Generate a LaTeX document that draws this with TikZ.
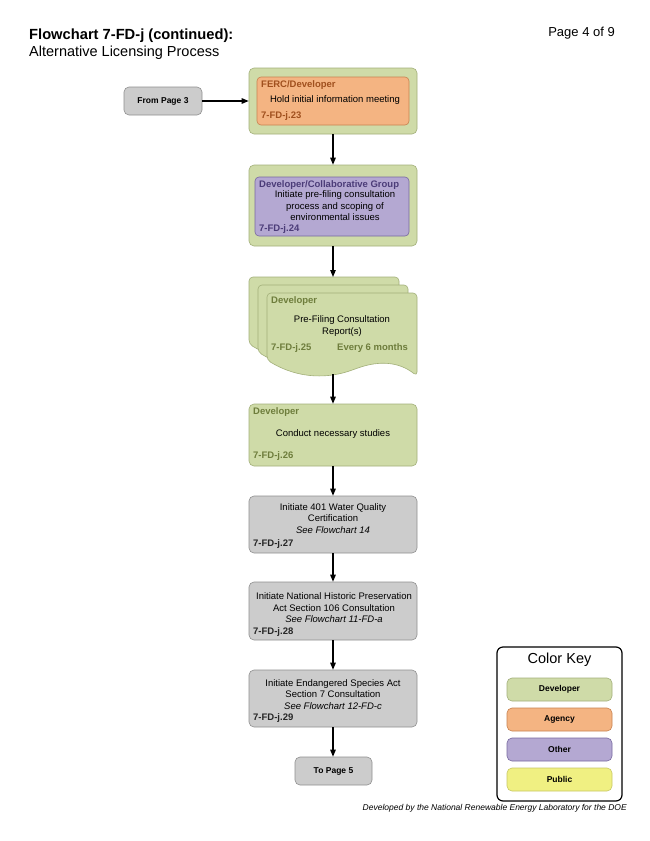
\documentclass[tikz,border=0pt]{standalone}
\usepackage{fontspec}
\setmainfont{Liberation Sans}
\usetikzlibrary{arrows.meta}
\definecolor{gfill}{HTML}{CFDBA8}
\definecolor{gdraw}{HTML}{A3B07A}
\definecolor{gtext}{HTML}{6E7D3C}
\definecolor{ofill}{HTML}{F4B482}
\definecolor{odraw}{HTML}{C8824F}
\definecolor{otext}{HTML}{A0501E}
\definecolor{pfill}{HTML}{B4A8D2}
\definecolor{pdraw}{HTML}{7869A0}
\definecolor{ptext}{HTML}{4B3C78}
\definecolor{kfill}{HTML}{CCCCCC}
\definecolor{kdraw}{HTML}{909090}
\definecolor{yfill}{HTML}{F0F082}
\definecolor{ydraw}{HTML}{C8C864}
\begin{document}
\begin{tikzpicture}[x=1pt,y=-1pt,
  box/.style={draw, rounded corners=5pt, inner sep=0pt, line width=0.6pt},
  devbox/.style={box, fill=gfill, draw=gdraw},
  agbox/.style={box, rounded corners=4pt, fill=ofill, draw=odraw},
  othbox/.style={box, rounded corners=4pt, fill=pfill, draw=pdraw},
  graybox/.style={box, fill=kfill, draw=kdraw},
  pubbox/.style={box, fill=yfill, draw=ydraw},
  body/.style={font=\fontsize{9.5}{11.5}\selectfont, align=center, inner sep=0pt},
  small/.style={font=\bfseries\fontsize{8.5}{10.5}\selectfont, align=center, inner sep=0pt},
  tag/.style={font=\bfseries\fontsize{9.5}{11.5}\selectfont, inner sep=0pt, anchor=west},
  arr/.style={-{Triangle[length=7pt,width=5.5pt]}, line width=1.1pt},
  page/.style={fill=gfill, draw=gdraw, line width=0.6pt, rounded corners=4pt}
]
\useasboundingbox[fill=white] (0,0) rectangle (650,841);

% titles
\node[anchor=base west, inner sep=0pt, font=\bfseries\fontsize{14.7}{17}\selectfont] (t1) at (29,39) {Flowchart 7-FD-j (continued):};
\node[anchor=base west, inner sep=0pt, font=\fontsize{14.5}{17}\selectfont] (t2) at (29,56) {Alternative Licensing Process};
\node[anchor=base east, inner sep=0pt, font=\fontsize{13}{15}\selectfont] (pg) at (615,36) {Page 4 of 9};

% From page 3
\node[graybox, minimum width=78pt, minimum height=28pt, small] (from) at (163,101) {From Page 3};

% box 23
\node[devbox, minimum width=168pt, minimum height=66pt] (o1) at (333,101) {};
\node[agbox, minimum width=152pt, minimum height=48pt] (i1) at (333,101) {};
\node[tag, text=otext] (l1) at (261,85) {FERC/Developer};
\node[body] (b1) at (335,100) {Hold initial information meeting};
\node[tag, text=otext] (n1) at (261,116) {7-FD-j.23};

% box 24
\node[devbox, minimum width=168pt, minimum height=81pt] (o2) at (333,205.5) {};
\node[othbox, minimum width=154pt, minimum height=59pt] (i2) at (332,206.5) {};
\node[tag, text=ptext] (l2) at (259,185) {Developer/Collaborative Group};
\node[body] (b2) at (335,206) {Initiate pre-filing consultation\\process and scoping of\\environmental issues};
\node[tag, text=ptext] (n2) at (259,229) {7-FD-j.24};

% multi-document 25
\foreach \dx/\dy in {-18/-16,-9/-8,0/0}{
  \begin{scope}[shift={(\dx,\dy)}]
    \path[page] (267,293) -- (417,293) -- (417,376)
      .. controls (398,361) and (378,361) .. (355,369)
      .. controls (330,378) and (300,380) .. (267,360) -- cycle;
  \end{scope}
}
\node[minimum width=150pt, minimum height=70pt, inner sep=0pt] (doc) at (342,328) {};
\coordinate (docbot) at (333,374);
\coordinate (doctop) at (333,277);
\node[tag, text=gtext] (l3) at (271,301) {Developer};
\node[body] (b3) at (342,326) {Pre-Filing Consultation\\Report(s)};
\node[tag, text=gtext] (n3) at (271,348) {7-FD-j.25};
\node[tag, text=gtext] (e3) at (337,348) {Every 6 months};

% box 26
\node[devbox, minimum width=168pt, minimum height=62pt] (o4) at (333,435) {};
\node[tag, text=gtext] (l4) at (253,412) {Developer};
\node[body] (b4) at (333,434) {Conduct necessary studies};
\node[tag, text=gtext] (n4) at (253,456) {7-FD-j.26};

% box 27
\node[graybox, minimum width=168pt, minimum height=57pt] (o5) at (333,524.5) {};
\node[body] (b5) at (333,518.5) {Initiate 401 Water Quality\\Certification\\\textit{See Flowchart 14}};
\node[tag, text=black!85] (n5) at (253,544) {7-FD-j.27};

% box 28
\node[graybox, minimum width=168pt, minimum height=58pt] (o6) at (333,611) {};
\node[body] (b6) at (334,608) {Initiate National Historic Preservation\\Act Section 106 Consultation\\\textit{See Flowchart 11-FD-a}};
\node[tag, text=black!85] (n6) at (253,632) {7-FD-j.28};

% box 29
\node[graybox, minimum width=168pt, minimum height=57pt] (o7) at (333,698.5) {};
\node[body] (b7) at (333,694.5) {Initiate Endangered Species Act\\Section 7 Consultation\\\textit{See Flowchart 12-FD-c}};
\node[tag, text=black!85] (n7) at (253,718) {7-FD-j.29};

% To page 5
\node[graybox, minimum width=77pt, minimum height=28pt, small] (to) at (333.5,771) {To Page 5};

% arrows
\draw[arr] (from.east) -- (o1.west);
\draw[arr] (o1.south) -- (o2.north);
\draw[arr] (o2.south) -- (doctop);
\draw[arr] (docbot) -- (o4.north);
\draw[arr] (o4.south) -- (o5.north);
\draw[arr] (o5.south) -- (o6.north);
\draw[arr] (o6.south) -- (o7.north);
\draw[arr] (o7.south) -- (to.north -| o7.south);

% color key
\node[draw=black, line width=1.2pt, rounded corners=6pt, fill=white, minimum width=125pt, minimum height=154pt, inner sep=0pt] (key) at (559.5,724) {};
\node[inner sep=0pt, font=\fontsize{14.5}{17}\selectfont] (kt) at (559.5,660) {Color Key};
\node[devbox, minimum width=105pt, minimum height=23pt, small] (k1) at (559.5,689.5) {Developer};
\node[agbox, rounded corners=5pt, minimum width=105pt, minimum height=23pt, small] (k2) at (559.5,719.5) {Agency};
\node[othbox, rounded corners=5pt, minimum width=105pt, minimum height=23pt, small] (k3) at (559.5,749.5) {Other};
\node[pubbox, minimum width=105pt, minimum height=23pt, small] (k4) at (559.5,779.5) {Public};

% footer
\node[anchor=east, inner sep=0pt, font=\itshape\fontsize{8.5}{10}\selectfont] (foot) at (627,808) {Developed by the National Renewable Energy Laboratory for the DOE};
\end{tikzpicture}
\end{document}
